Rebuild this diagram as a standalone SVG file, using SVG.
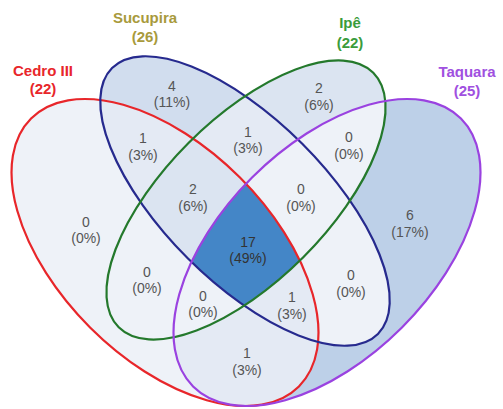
<svg xmlns="http://www.w3.org/2000/svg" xmlns:xlink="http://www.w3.org/1999/xlink" width="503" height="409" viewBox="0 0 503 409">
<style>
.n{font-family:"Liberation Sans",Arial,sans-serif;font-size:14px;fill:#555;text-anchor:middle}
.l{font-family:"Liberation Sans",Arial,sans-serif;font-size:15px;font-weight:bold;text-anchor:middle}
.o{fill:none;stroke-width:2.2}
.f0{fill:#eef2f8}.f1{fill:#e4eaf4}.f2{fill:#dbe4f1}.f4{fill:#d1ddee}.f6{fill:#bdd0e8}.f17{fill:#4486c7}
</style>
<defs>
<ellipse id="eR" cx="0" cy="0" rx="189.4" ry="106" transform="translate(165,252.5) rotate(45)"/>
<ellipse id="eB" cx="0" cy="0" rx="188" ry="81" transform="translate(245,201) rotate(45)"/>
<ellipse id="eG" cx="0" cy="0" rx="180" ry="81" transform="translate(246,200) rotate(-45)"/>
<ellipse id="eP" cx="0" cy="0" rx="189.4" ry="106" transform="translate(327,252.5) rotate(-45)"/>
<clipPath id="cR"><ellipse cx="0" cy="0" rx="189.4" ry="106" transform="translate(165,252.5) rotate(45)"/></clipPath>
<clipPath id="cB"><ellipse cx="0" cy="0" rx="188" ry="81" transform="translate(245,201) rotate(45)"/></clipPath>
<clipPath id="cG"><ellipse cx="0" cy="0" rx="180" ry="81" transform="translate(246,200) rotate(-45)"/></clipPath>
</defs>
<rect width="503" height="409" fill="#fff"/>
<g id="regions">
<use href="#eR" class="f0"/>
<use href="#eB" class="f4"/>
<use href="#eG" class="f2"/>
<use href="#eP" class="f6"/>
<g clip-path="url(#cR)"><use href="#eB" class="f1"/><use href="#eG" class="f0"/><use href="#eP" class="f1"/></g>
<g clip-path="url(#cB)"><use href="#eG" class="f1"/><use href="#eP" class="f0"/></g>
<g clip-path="url(#cG)"><use href="#eP" class="f0"/></g>
<g clip-path="url(#cR)"><g clip-path="url(#cB)"><use href="#eG" class="f2"/><use href="#eP" class="f1"/></g></g>
<g clip-path="url(#cR)"><g clip-path="url(#cG)"><use href="#eP" class="f0"/></g></g>
<g clip-path="url(#cB)"><g clip-path="url(#cG)"><use href="#eP" class="f0"/></g></g>
<g clip-path="url(#cR)"><g clip-path="url(#cB)"><g clip-path="url(#cG)"><use href="#eP" class="f17"/></g></g></g>
</g>
<g id="cedro">
<use href="#eR" class="o" stroke="#e8262a"/>
<text class="l" x="43" y="76" fill="#e8262a">Cedro III</text>
<text class="l" x="43" y="94" fill="#e8262a">(22)</text>
</g>
<g id="sucupira">
<use href="#eB" class="o" stroke="#262a8e"/>
<text class="l" x="145" y="23" fill="#a89a3c">Sucupira</text>
<text class="l" x="145" y="42" fill="#a89a3c">(26)</text>
</g>
<g id="ipe">
<use href="#eG" class="o" stroke="#24792c"/>
<text class="l" x="350" y="28" fill="#3a9c3c">Ipê</text>
<text class="l" x="350" y="48" fill="#3a9c3c">(22)</text>
</g>
<g id="taquara">
<use href="#eP" class="o" stroke="#9a42e0"/>
<text class="l" x="467" y="77" fill="#a050e0">Taquara</text>
<text class="l" x="467" y="96" fill="#a050e0">(25)</text>
</g>
<g id="counts">
<text class="n" x="172" y="91">4</text><text class="n" x="172" y="107">(11%)</text>
<text class="n" x="319" y="93">2</text><text class="n" x="319" y="110">(6%)</text>
<text class="n" x="143" y="143">1</text><text class="n" x="143" y="160">(3%)</text>
<text class="n" x="248" y="137">1</text><text class="n" x="248" y="153">(3%)</text>
<text class="n" x="349" y="142">0</text><text class="n" x="349" y="159">(0%)</text>
<text class="n" x="193" y="194">2</text><text class="n" x="193" y="211">(6%)</text>
<text class="n" x="301" y="194">0</text><text class="n" x="301" y="211">(0%)</text>
<text class="n" x="86" y="227">0</text><text class="n" x="86" y="243">(0%)</text>
<text class="n" x="410" y="220">6</text><text class="n" x="410" y="237">(17%)</text>
<text class="n" x="248" y="247" style="fill:#333">17</text><text class="n" x="248" y="263" style="fill:#333">(49%)</text>
<text class="n" x="147" y="277">0</text><text class="n" x="147" y="293">(0%)</text>
<text class="n" x="351" y="280">0</text><text class="n" x="351" y="297">(0%)</text>
<text class="n" x="203" y="301">0</text><text class="n" x="203" y="317">(0%)</text>
<text class="n" x="292" y="302">1</text><text class="n" x="292" y="319">(3%)</text>
<text class="n" x="247" y="358">1</text><text class="n" x="247" y="375">(3%)</text>
</g>
</svg>
